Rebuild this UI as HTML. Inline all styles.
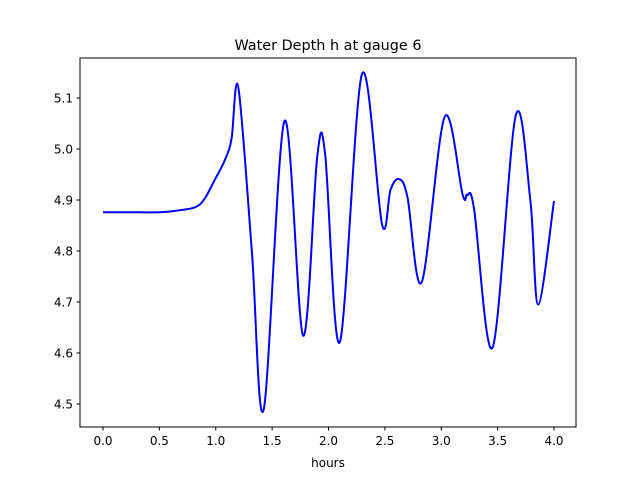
<!DOCTYPE html>
<html><head><meta charset="utf-8"><style>
body{margin:0;background:#fff;}
text{font-family:"DejaVu Sans","Liberation Sans",sans-serif;fill:#000;}
</style></head><body>
<svg width="640" height="480" viewBox="0 0 640 480" id="svg">
<rect x="0" y="0" width="640" height="480" fill="#fff"/>
<text x="328" y="50" font-size="14.4" text-anchor="middle">Water Depth h at gauge 6</text>
<text x="328" y="467" font-size="12" text-anchor="middle">hours</text>
<g id="ticks"></g>
<path id="line" fill="none" stroke="#0000ff" stroke-width="2" stroke-linejoin="round"/>
<rect x="80" y="58" width="496" height="369" fill="none" stroke="#000" stroke-width="1"/>
</svg>
<script>
const times=[0,0.3,0.5,0.68,0.82,0.9,0.99,1.08,1.14,1.2,1.32,1.425,1.61,1.775,1.9,1.97,2.1,2.297,2.475,2.55,2.625,2.7,2.827,3.03,3.19,3.23,3.29,3.456,3.66,3.79,3.86,4.0];
const depths=[4.876,4.876,4.876,4.88,4.886,4.902,4.939,4.978,5.02,5.121,4.80,4.489,5.055,4.634,4.985,4.99,4.621,5.147,4.852,4.92,4.941,4.906,4.739,5.063,4.91,4.91,4.884,4.611,5.065,4.90,4.695,4.898];
const xTicks=[0,0.5,1,1.5,2,2.5,3,3.5,4];
const xTickLabels=["0.0","0.5","1.0","1.5","2.0","2.5","3.0","3.5","4.0"];
const yTicks=[4.5,4.6,4.7,4.8,4.9,5.0,5.1];
const yTickLabels=["4.5","4.6","4.7","4.8","4.9","5.0","5.1"];
const X=t=>103+t*112.75;
const Y=h=>404-(h-4.5)*510;
const NS="http://www.w3.org/2000/svg";
const g=document.getElementById('ticks');
function mk(tag,a){const e=document.createElementNS(NS,tag);for(const k in a)e.setAttribute(k,a[k]);return e;}
xTicks.forEach((t,i)=>{
  const l=mk('line',{x1:X(t),x2:X(t),y1:427,y2:430.5,stroke:'#000'});
  
  
  g.appendChild(l);
  const tx=mk('text',{x:X(t),y:445,'font-size':12,'text-anchor':'middle'});
  tx.textContent=xTickLabels[i];
  
  
  g.appendChild(tx);
});
yTicks.forEach((h,i)=>{
  const l=mk('line',{x1:76.5,x2:80,y1:Y(h),y2:Y(h),stroke:'#000'});
  
  
  g.appendChild(l);
  const tx=mk('text',{x:73,y:Y(h)+4.5,'font-size':12,'text-anchor':'end'});
  tx.textContent=yTickLabels[i];
  
  
  g.appendChild(tx);
});
const p=times.map((t,i)=>[X(t),Y(depths[i])]);
let d=`M${p[0][0]},${p[0][1]}`;
for(let i=0;i<p.length-1;i++){
  const p0=p[Math.max(0,i-1)],p1=p[i],p2=p[i+1],p3=p[Math.min(p.length-1,i+2)];
  const c1=[p1[0]+(p2[0]-p0[0])/6,p1[1]+(p2[1]-p0[1])/6];
  const c2=[p2[0]-(p3[0]-p1[0])/6,p2[1]-(p3[1]-p1[1])/6];
  d+=` C${c1[0]},${c1[1]} ${c2[0]},${c2[1]} ${p2[0]},${p2[1]}`;
}
document.getElementById('line').setAttribute('d',d);
</script>
</body></html>
